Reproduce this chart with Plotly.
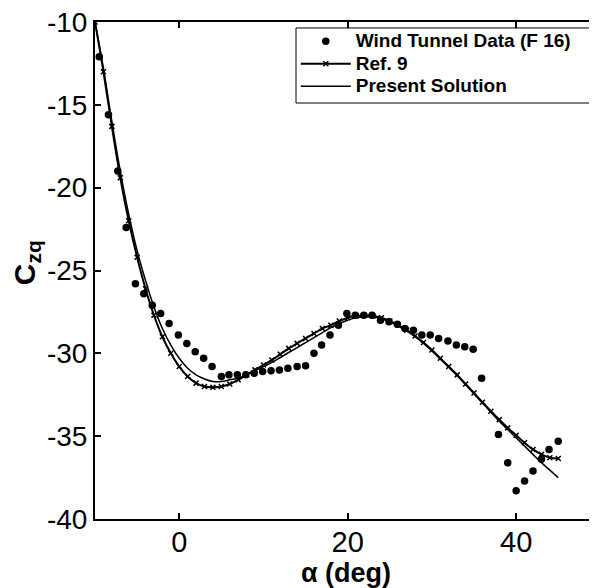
import plotly.graph_objects as go

# Wind tunnel data (F 16)
wt_alpha = [-9.5, -8.4, -7.3, -6.3, -5.2, -4.2, -3.2, -2.2, -1.2, -0.1, 0.9, 1.9, 2.9, 3.9,
            5.0, 5.9, 6.9, 7.9, 8.9, 9.9, 10.9, 11.9, 12.9, 14.0, 15.0, 16.0, 16.9, 17.9,
            18.9, 19.9, 20.9, 21.9, 22.9, 23.9, 24.9, 25.9, 26.8, 27.8, 28.8, 29.8, 30.8,
            31.9, 32.9, 33.9, 34.9, 35.9, 37.9, 39.0, 40.0, 41.0, 42.0, 43.0, 43.9, 45.0]
wt_czq = [-12.1, -15.6, -19.0, -22.4, -25.8, -26.4, -27.1, -27.6, -28.2, -28.9, -29.4, -29.9,
          -30.3, -30.8, -31.4, -31.3, -31.3, -31.3, -31.2, -31.1, -31.05, -31.0, -30.9, -30.8,
          -30.75, -30.0, -29.5, -28.9, -28.3, -27.6, -27.7, -27.7, -27.7, -28.0, -28.1, -28.25,
          -28.5, -28.6, -28.9, -28.9, -29.1, -29.25, -29.5, -29.6, -29.75, -31.5, -34.9, -36.6,
          -38.3, -37.7, -37.1, -36.4, -35.8, -35.3]

# Ref. 9
ref_alpha = list(range(-10, 46))
ref_czq = [-10.0, -13.0, -16.3, -19.4, -22.0, -24.2, -26.1, -27.7, -29.0, -30.0, -30.8, -31.4,
           -31.8, -32.0, -32.05, -32.0, -31.85, -31.6, -31.3, -31.0, -30.7, -30.4, -30.05, -29.7,
           -29.4, -29.1, -28.8, -28.5, -28.3, -28.05, -27.85, -27.75, -27.7, -27.75, -27.85,
           -28.05, -28.3, -28.6, -28.95, -29.35, -29.8, -30.3, -30.8, -31.3, -31.85, -32.4,
           -32.95, -33.5, -34.0, -34.5, -34.95, -35.4, -35.8, -36.1, -36.3, -36.35]

# Present Solution
ps_alpha = list(range(-10, 46))
ps_czq = [-10.0, -12.8, -16.0, -19.0, -21.6, -23.8, -25.6, -27.2, -28.5, -29.5, -30.3, -30.9,
          -31.3, -31.55, -31.7, -31.7, -31.6, -31.5, -31.3, -31.05, -30.8, -30.55, -30.25,
          -29.95, -29.65, -29.35, -29.05, -28.75, -28.45, -28.2, -28.0, -27.85, -27.8, -27.8,
          -27.9, -28.1, -28.35, -28.65, -29.0, -29.4, -29.85, -30.35, -30.85, -31.35, -31.9,
          -32.45, -33.0, -33.55, -34.1, -34.6, -35.1, -35.6, -36.1, -36.6, -37.05, -37.5]

x_ticks = [0, 20, 40]
y_ticks = [-10, -15, -20, -25, -30, -35, -40]

FONT = "Liberation Sans, Arial, sans-serif"


def leg(name):
    return "<span style='font-size:19px'>" + name + "</span>"


fig = go.Figure()
fig.add_trace(go.Scatter(x=wt_alpha, y=wt_czq, mode="markers",
                         name=leg("Wind Tunnel Data (F 16)"),
                         marker=dict(color="black", size=7.5, symbol="circle")))
fig.add_trace(go.Scatter(x=ref_alpha, y=ref_czq, mode="lines+markers", name=leg("Ref. 9"),
                         line=dict(color="black", width=2, shape="spline"),
                         marker=dict(color="black", size=5, symbol="x-thin",
                                     line=dict(color="black", width=1.5))))
fig.add_trace(go.Scatter(x=ps_alpha, y=ps_czq, mode="lines", name=leg("Present Solution"),
                         line=dict(color="black", width=1.5, shape="spline")))

fig.update_layout(
    width=589, height=580,
    margin=dict(l=87, r=0, t=14, b=69, autoexpand=False),
    paper_bgcolor="white", plot_bgcolor="white",
    font=dict(family=FONT, color="black"),
    showlegend=True,
    legend=dict(x=0.40, y=0.994, xanchor="left", yanchor="top",
                borderwidth=0, bgcolor="rgba(0,0,0,0)",
                font=dict(size=15, family=FONT, weight="bold"),
                tracegroupgap=0, itemwidth=50),
    shapes=[dict(type="rect", xref="paper", yref="paper", x0=0.4004, x1=0.992,
                 y0=0.837, y1=0.988, line=dict(color="black", width=1),
                 fillcolor="white", layer="above")],
    xaxis=dict(range=[-10, 49.6], tickvals=x_ticks, ticktext=[str(v) for v in x_ticks],
               ticks="inside", ticklen=6, tickwidth=1.5, tickcolor="black",
               showline=True, linecolor="black", linewidth=2, mirror="ticks",
               showgrid=False, zeroline=False, automargin=False,
               ticklabeloverflow="allow", ticklabelstandoff=-4,
               tickfont=dict(size=29, family=FONT)),
    yaxis=dict(range=[-40, -10], tickvals=y_ticks, ticktext=[str(v) for v in y_ticks],
               ticks="inside", ticklen=6, tickwidth=1.5, tickcolor="black",
               showline=True, linecolor="black", linewidth=2, mirror="ticks",
               showgrid=False, zeroline=False, automargin=False,
               ticklabeloverflow="allow",
               tickfont=dict(size=28, family=FONT)),
    annotations=[
        dict(text="<b>α (deg)</b>", xref="paper", yref="paper", x=0.5, y=-0.108,
             xanchor="center", yanchor="middle", showarrow=False,
             font=dict(size=27, family=FONT)),
        dict(text="<b>C<sub>zq</sub></b>", xref="paper", yref="paper", x=-0.137, y=0.515,
             xanchor="center", yanchor="middle", showarrow=False, textangle=-90,
             font=dict(size=30, family=FONT)),
    ],
)

fig.write_html("out.html")
